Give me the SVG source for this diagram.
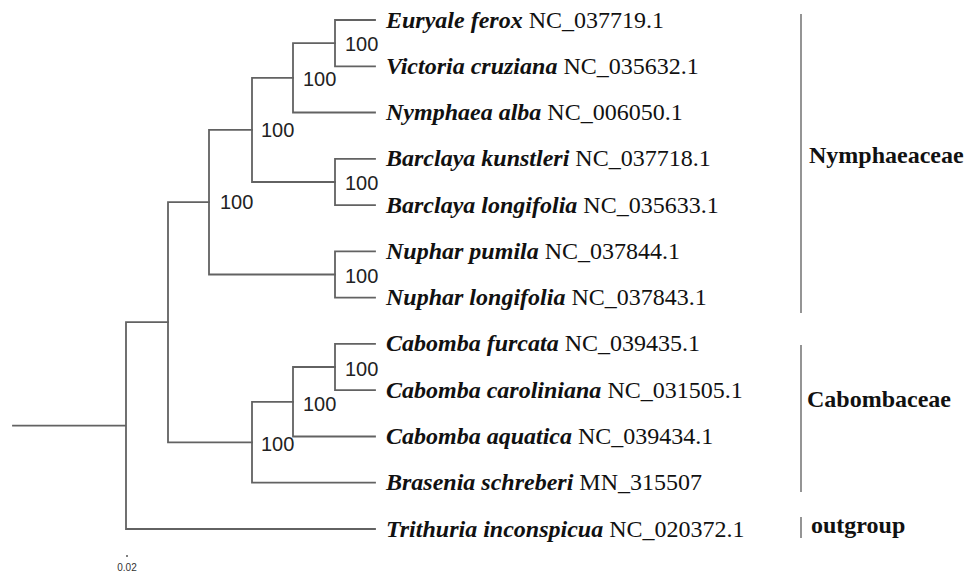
<svg xmlns="http://www.w3.org/2000/svg" width="969" height="574" viewBox="0 0 969 574">
<style>
.br{fill:none;stroke:#626262;stroke-width:1.8;stroke-linecap:square}
.bar{fill:none;stroke:#7a7a7a;stroke-width:1.6}
.tx{font-family:"Liberation Serif","Times New Roman",serif;font-size:24px;fill:#111}
.sp{font-weight:bold;font-style:italic}
.bs{font-family:"Liberation Sans",Arial,sans-serif;font-size:20px;fill:#222}
.cl{font-family:"Liberation Serif","Times New Roman",serif;font-size:24px;font-weight:bold;fill:#111}
.sc{font-family:"Liberation Sans",Arial,sans-serif;font-size:10px;fill:#333}
</style>
<rect width="969" height="574" fill="#fff"/>
<g id="connectors">
<path class="br" d="M13 425.6H126 M126 322.2V529 M126 529H375 M126 322.2H168"/>
<path class="br" d="M168 202.2V442.3 M168 202.2H209 M168 442.3H252"/>
<path class="br" d="M209 129.9V274.5 M209 129.9H252 M209 274.5H335"/>
<path class="br" d="M252 77.8V182 M252 77.8H293 M252 182H335"/>
<path class="br" d="M293 43.1V112.5 M293 43.1H335 M293 112.5H375"/>
<path class="br" d="M335 20V66.3 M335 20H375 M335 66.3H375"/>
<path class="br" d="M335 158.8V205.1 M335 158.8H375 M335 205.1H375"/>
<path class="br" d="M335 251.4V297.6 M335 251.4H375 M335 297.6H375"/>
<path class="br" d="M252 401.8V482.7 M252 401.8H293 M252 482.7H375"/>
<path class="br" d="M293 367V436.5 M293 367H335 M293 436.5H375"/>
<path class="br" d="M335 343.9V390.2 M335 343.9H375 M335 390.2H375"/>
</g>
<g id="bootstrap">
<text class="bs" x="345" y="50.5">100</text>
<text class="bs" x="303" y="86">100</text>
<text class="bs" x="261" y="137">100</text>
<text class="bs" x="345" y="190">100</text>
<text class="bs" x="220" y="209">100</text>
<text class="bs" x="345" y="283">100</text>
<text class="bs" x="345" y="376">100</text>
<text class="bs" x="303" y="410.5">100</text>
<text class="bs" x="261" y="451">100</text>
</g>
<g id="leaf-euryale"><text class="tx" x="386" y="27.5"><tspan class="sp">Euryale ferox</tspan> NC_037719.1</text></g>
<g id="leaf-victoria"><text class="tx" x="386" y="73.8"><tspan class="sp">Victoria cruziana</tspan> NC_035632.1</text></g>
<g id="leaf-nymphaea"><text class="tx" x="386" y="120"><tspan class="sp">Nymphaea alba</tspan> NC_006050.1</text></g>
<g id="leaf-barclaya-k"><text class="tx" x="386" y="166.3"><tspan class="sp">Barclaya kunstleri</tspan> NC_037718.1</text></g>
<g id="leaf-barclaya-l"><text class="tx" x="386" y="212.6"><tspan class="sp">Barclaya longifolia</tspan> NC_035633.1</text></g>
<g id="leaf-nuphar-p"><text class="tx" x="386" y="258.9"><tspan class="sp">Nuphar pumila</tspan> NC_037844.1</text></g>
<g id="leaf-nuphar-l"><text class="tx" x="386" y="305.1"><tspan class="sp">Nuphar longifolia</tspan> NC_037843.1</text></g>
<g id="leaf-cabomba-f"><text class="tx" x="386" y="351.4"><tspan class="sp">Cabomba furcata</tspan> NC_039435.1</text></g>
<g id="leaf-cabomba-c"><text class="tx" x="386" y="397.7"><tspan class="sp">Cabomba caroliniana</tspan> NC_031505.1</text></g>
<g id="leaf-cabomba-a"><text class="tx" x="386" y="444"><tspan class="sp">Cabomba aquatica</tspan> NC_039434.1</text></g>
<g id="leaf-brasenia"><text class="tx" x="386" y="490.2"><tspan class="sp">Brasenia schreberi</tspan> MN_315507</text></g>
<g id="leaf-trithuria"><text class="tx" x="386" y="536.5"><tspan class="sp">Trithuria inconspicua</tspan> NC_020372.1</text></g>
<g id="clade-nymphaeaceae"><path class="bar" d="M801 14V313"/><text class="cl" x="809" y="162.5">Nymphaeaceae</text></g>
<g id="clade-cabombaceae"><path class="bar" d="M801 345V492"/><text class="cl" x="807" y="407">Cabombaceae</text></g>
<g id="clade-outgroup"><path class="bar" d="M801 517V538"/><text class="cl" x="811" y="533">outgroup</text></g>
<g id="scale"><path d="M126 556H128" stroke="#555" stroke-width="1.5"/><text class="sc" x="127" y="571" text-anchor="middle">0.02</text></g>
</svg>
